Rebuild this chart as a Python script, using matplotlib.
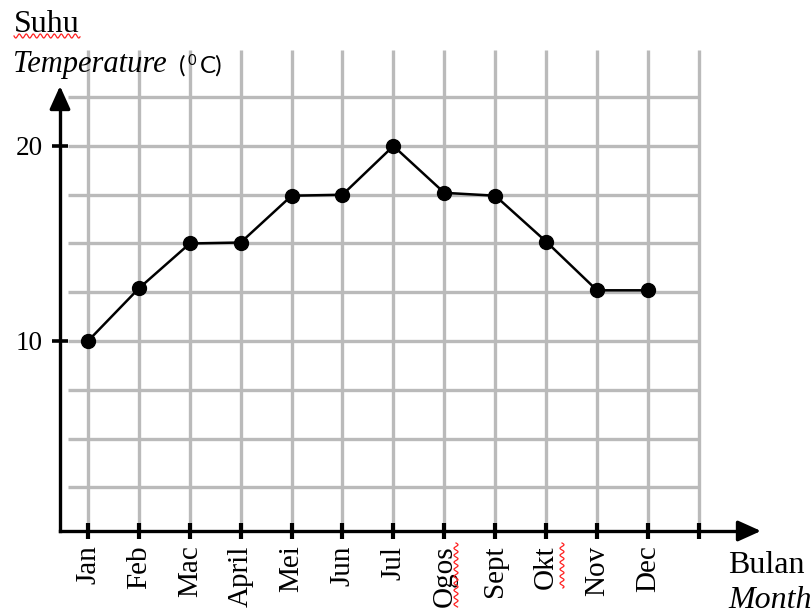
import numpy as np
import matplotlib
matplotlib.use("Agg")
import matplotlib.pyplot as plt

# data
months = ['Jan', 'Feb', 'Mac', 'April', 'Mei', 'Jun', 'Jul',
          'Ogos', 'Sept', 'Okt', 'Nov', 'Dec']
temps = [10, 12.7, 15, 15.05, 17.45, 17.5, 20, 17.6, 17.45, 15.1, 12.6, 12.6]
y_ticks = [10, 20]
y_grid = [2.5, 5, 7.5, 10, 12.5, 15, 17.5, 20, 22.5]

SERIF = 'Liberation Serif'
GRID_COL = '#bababa'

fig = plt.figure(figsize=(8.12, 6.16), dpi=100)
ax = fig.add_axes([0, 0, 1, 1])

# pixel <-> data mapping: month step 50.9 px, 10 degrees = 195 px
def px(x):
    return (x - 88) / 50.9

def py(y):
    return (536 - y) / 19.5

ax.set_xlim(px(0), px(812))
ax.set_ylim(py(616), py(0))

x_pos = np.arange(len(months))
x_axis_y = py(531)
y_axis_x = px(60)

# grid
ax.vlines(np.arange(len(months) + 1), x_axis_y, py(50), color=GRID_COL, lw=2.4, zorder=1)
ax.hlines(y_grid, px(68), len(months), color=GRID_COL, lw=2.4, zorder=1)

# axes lines with arrows
for side in ['top', 'right']:
    ax.spines[side].set_visible(False)
ax.spines['left'].set_position(('data', y_axis_x))
ax.spines['bottom'].set_position(('data', x_axis_y))
ax.spines['left'].set_bounds(x_axis_y, py(98))
ax.spines['bottom'].set_bounds(y_axis_x, px(745))
for side in ['left', 'bottom']:
    ax.spines[side].set_linewidth(2.4)
    ax.spines[side].set_zorder(3)
    ax.spines[side].set_capstyle('projecting')

arrow = dict(arrowstyle='-|>,head_length=1.0,head_width=0.45', color='black',
             lw=2.4, shrinkA=0, shrinkB=0, mutation_scale=14)
ax.annotate('', xy=(y_axis_x, py(86)), xytext=(y_axis_x, py(100)), arrowprops=arrow)
ax.annotate('', xy=(px(761), x_axis_y), xytext=(px(745), x_axis_y), arrowprops=arrow)

# ticks
ax.set_xticks(list(x_pos) + [len(months)])
ax.set_xticklabels(months + [''], rotation=90, fontsize=21, family=SERIF, va='top')
ax.set_yticks(y_ticks)
ax.set_yticklabels([str(v) for v in y_ticks], fontsize=19.5, family=SERIF)
ax.tick_params(axis='x', direction='inout', length=12, width=3, pad=4.5)
ax.tick_params(axis='y', direction='inout', length=12, width=2.6, pad=6.5)

# series
ax.plot(x_pos, temps, color='black', lw=1.8, marker='o', markersize=10, zorder=4)

# axis titles
ax.text(px(14), py(32), 'Suhu', fontsize=23, family=SERIF, va='baseline', ha='left')
ax.text(px(13), py(72), 'Temperature', fontsize=22, family=SERIF, style='italic',
        va='baseline', ha='left')
ax.text(px(179), py(73), '(', fontsize=17.5, family='Lato', va='baseline', ha='left')
ax.text(px(188), py(65), '0', fontsize=10.5, family='Lato', va='baseline', ha='left')
ax.text(px(200), py(73), 'C)', fontsize=17.5, family='Lato', va='baseline', ha='left')
ax.text(px(728), py(573), 'Bulan', fontsize=23, family=SERIF, va='baseline', ha='left')
ax.text(px(728), py(608), 'Month', fontsize=23, family=SERIF, style='italic',
        va='baseline', ha='left')

# spell-check squiggles from the source document
def squiggle(x0, x1, y0, y1, vertical=False):
    t = np.linspace(0, 1, 200)
    if vertical:
        yy = y0 + (y1 - y0) * t
        xx = (x0 + x1) / 2 + (x1 - x0) / 2 * np.sin(t * (y1 - y0) / 3.5 * np.pi)
    else:
        xx = x0 + (x1 - x0) * t
        yy = (y0 + y1) / 2 + (y1 - y0) / 2 * np.sin(t * (x1 - x0) / 3.5 * np.pi)
    ax.plot(px(xx), py(yy), color='#ff2020', lw=0.9, zorder=5)

squiggle(14, 80, 34, 38)
squiggle(454, 458, 543, 607, vertical=True)
squiggle(560, 564, 543, 588, vertical=True)

fig.savefig('out.png', dpi=100)
